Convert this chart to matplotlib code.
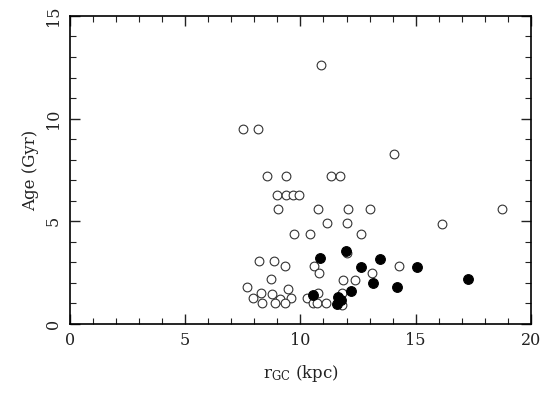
import matplotlib
matplotlib.use("Agg")
import matplotlib.pyplot as plt
from matplotlib.ticker import MultipleLocator

# open circles
open_r = [10.9, 7.5, 8.15, 8.55, 9.37, 11.32, 11.7, 9.0, 9.37, 9.68, 9.95,
          9.03, 10.76, 12.06, 13.0, 11.15, 12.02, 9.72, 10.41, 12.62, 18.74,
          16.14, 14.06, 14.27, 8.21, 8.85, 9.31, 8.71, 7.67, 8.3, 8.76, 9.47,
          7.95, 9.11, 9.57, 8.33, 8.91, 9.31, 10.27, 10.76, 10.61, 10.82,
          10.56, 10.73, 11.11, 12.0, 13.1, 11.86, 12.36, 11.79, 11.79]
open_age = [12.6, 9.5, 9.5, 7.2, 7.2, 7.2, 7.2, 6.3, 6.3, 6.3, 6.3,
            5.6, 5.6, 5.6, 5.6, 4.9, 4.9, 4.4, 4.4, 4.4, 5.6,
            4.87, 8.3, 2.8, 3.08, 3.08, 2.8, 2.18, 1.79, 1.49, 1.46, 1.69,
            1.28, 1.22, 1.28, 1.01, 1.01, 1.01, 1.28, 1.49, 2.8, 2.47,
            1.01, 1.01, 1.01, 3.47, 2.47, 2.16, 2.16, 0.93, 1.49]

# filled circles
fill_r = [10.85, 10.56, 11.97, 13.45, 12.61, 13.16, 14.17, 12.18, 11.64,
          11.74, 11.57, 15.07, 17.27]
fill_age = [3.2, 1.41, 3.57, 3.18, 2.79, 1.98, 1.79, 1.62, 1.33,
            1.17, 0.96, 2.79, 2.19]

plt.rcParams['font.family'] = 'DejaVu Serif'
plt.rcParams['mathtext.fontset'] = 'dejavuserif'

fig = plt.figure(figsize=(5.6, 3.98), dpi=100)
ax = fig.add_axes([0.125, 0.186, 0.823, 0.774])

ax.plot(open_r, open_age, 'o', ms=6.3, mfc='white', mec='#333333', mew=0.8)
ax.plot(fill_r, fill_age, 'o', ms=7, mfc='black', mec='black', mew=0.8)

ax.set_xlim(0, 20)
ax.set_ylim(0, 15)
ax.xaxis.set_major_locator(MultipleLocator(5))
ax.xaxis.set_minor_locator(MultipleLocator(1))
ax.yaxis.set_major_locator(MultipleLocator(5))
ax.yaxis.set_minor_locator(MultipleLocator(1))
ax.tick_params(which='both', direction='in', top=True, right=True, labelsize=11.5,
               color='#222222', labelcolor='#222222')
ax.tick_params(which='major', length=7, width=1, pad=6)
ax.tick_params(which='minor', length=4, width=0.8)
for lab in ax.get_yticklabels():
    lab.set_rotation(90)
    lab.set_va('center')
for s in ax.spines.values():
    s.set_linewidth(1.2)

ax.set_xlabel(r'r$_{\mathrm{GC}}$ (kpc)', fontsize=12, labelpad=10, color='#222222')
ax.set_ylabel('Age (Gyr)', fontsize=12, labelpad=4, color='#222222')

fig.savefig('out.png', dpi=100)
